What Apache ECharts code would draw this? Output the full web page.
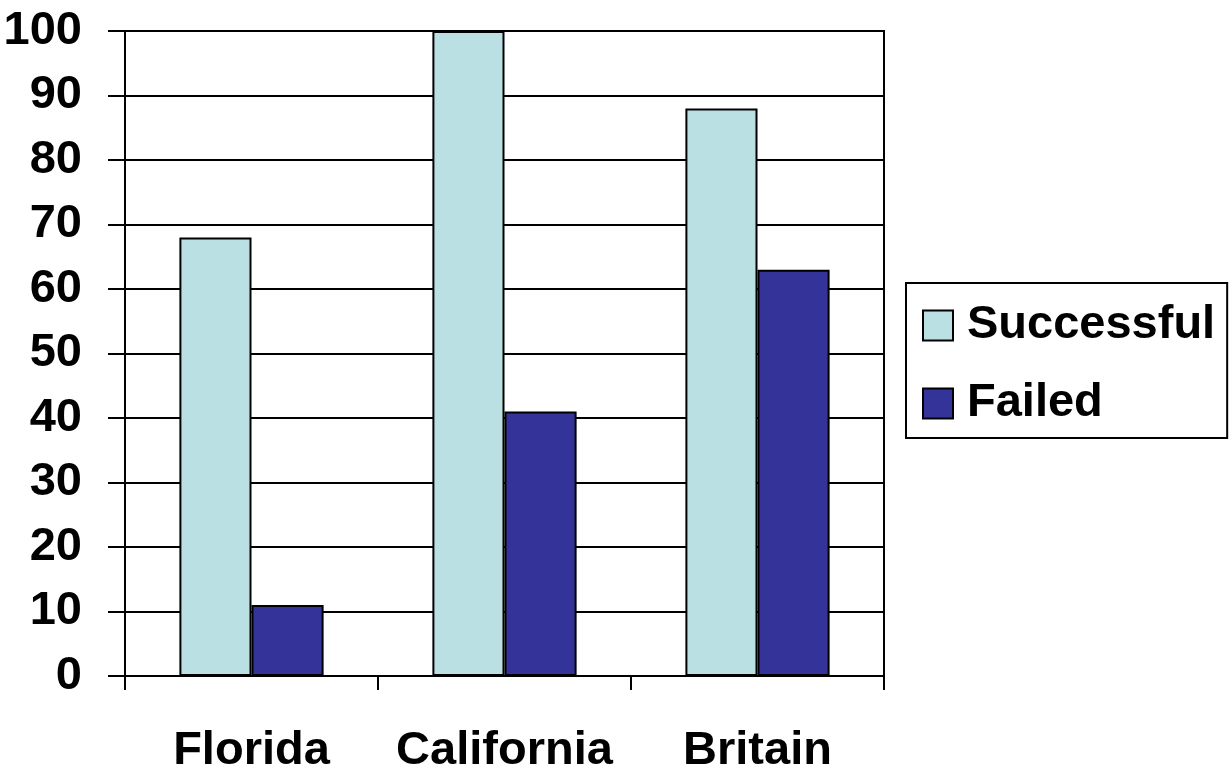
<!DOCTYPE html>
<html>
<head>
<meta charset="utf-8">
<script src="https://cdn.jsdelivr.net/npm/echarts@6/dist/echarts.min.js"></script>
<style>
  html, body { margin: 0; padding: 0; background: #fff; overflow: hidden; }
  #chart { width: 1230px; height: 769px; }
</style>
</head>
<body>
<div id="chart"></div>
<script>
// Outcomes per location
const categories = ['Florida', 'California', 'Britain'];
const successful = [68, 100, 88];
const failed = [11, 41, 63];
const seriesNames = ['Successful', 'Failed'];

const FONT = '"Liberation Sans", Arial, sans-serif';

const chart = echarts.init(document.getElementById('chart'));
chart.setOption({
  backgroundColor: '#ffffff',
  animation: false,
  grid: {
    left: 125, right: 346, top: 31, bottom: 93,
    outerBoundsMode: 'none', containLabel: false,
    show: true, borderColor: '#000', borderWidth: 2, backgroundColor: 'transparent'
  },
  legend: {
    orient: 'vertical',
    left: 906, top: 283,
    padding: [19, 12, 11, 16],
    itemGap: 31,
    itemWidth: 30, itemHeight: 30,
    borderColor: '#000', borderWidth: 2,
    backgroundColor: '#fff',
    icon: 'rect',
    textStyle: {
      fontFamily: FONT, fontWeight: 'bold', fontSize: 47, lineHeight: 40,
      color: '#000', padding: [0, 0, 0, 9]
    },
    data: seriesNames
  },
  xAxis: {
    type: 'category',
    data: categories,
    axisLine: { lineStyle: { color: '#000', width: 2 } },
    axisTick: { show: true, interval: 0, length: 14, lineStyle: { color: '#000', width: 2 } },
    axisLabel: { interval: 0, margin: 52, fontFamily: FONT, fontWeight: 'bold', fontSize: 47, color: '#000' }
  },
  yAxis: {
    type: 'value',
    min: 0, max: 100, interval: 10,
    axisLine: { show: true, lineStyle: { color: '#000', width: 2 } },
    axisTick: { show: true, length: 17, lineStyle: { color: '#000', width: 2 } },
    splitLine: { show: true, lineStyle: { color: '#000', width: 2 } },
    axisLabel: { margin: 43, fontFamily: FONT, fontWeight: 'bold', fontSize: 47, color: '#000' }
  },
  series: [
    {
      name: seriesNames[0], type: 'bar', data: successful,
      barGap: '0%', barCategoryGap: '43%',
      itemStyle: { color: '#BBE0E3', borderColor: '#000', borderWidth: 2 }
    },
    {
      name: seriesNames[1], type: 'bar', data: failed,
      itemStyle: { color: '#333399', borderColor: '#000', borderWidth: 2 }
    }
  ]
});
</script>
</body>
</html>
